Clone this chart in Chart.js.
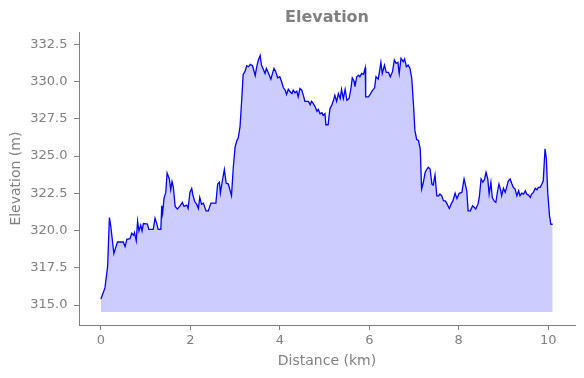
<!DOCTYPE html>
<html>
<head>
<meta charset="utf-8">
<title>Elevation</title>
<script src="https://cdn.jsdelivr.net/npm/chart.js@4.4.1/dist/chart.umd.min.js"></script>
<style>
  html, body { margin: 0; padding: 0; background: #fff; }
  #chart { display: block; }
</style>
</head>
<body>
<canvas id="chart" width="584" height="378"></canvas>
<script>
// distance along the route (km) and elevation (m)
var distanceKm = [
  0.00, 0.09, 0.15, 0.19, 0.22, 0.29, 0.33, 0.37, 0.50, 0.54, 0.58, 0.65, 0.69, 0.73, 0.75, 0.79,
  0.82, 0.85, 0.89, 0.92, 0.95, 1.04, 1.07, 1.17, 1.21, 1.26, 1.28, 1.34, 1.36, 1.38, 1.41, 1.45,
  1.48, 1.53, 1.56, 1.59, 1.62, 1.66, 1.71, 1.77, 1.82, 1.86, 1.92, 1.95, 1.99, 2.03, 2.06, 2.10,
  2.14, 2.18, 2.21, 2.25, 2.29, 2.35, 2.40, 2.46, 2.57, 2.61, 2.65, 2.67, 2.71, 2.76, 2.80, 2.85,
  2.92, 2.96, 3.00, 3.04, 3.07, 3.11, 3.15, 3.18, 3.22, 3.26, 3.30, 3.34, 3.39, 3.45, 3.48, 3.52,
  3.56, 3.59, 3.63, 3.67, 3.70, 3.74, 3.80, 3.83, 3.87, 3.91, 3.95, 4.00, 4.04, 4.08, 4.12, 4.15,
  4.19, 4.23, 4.27, 4.30, 4.34, 4.38, 4.41, 4.45, 4.49, 4.53, 4.56, 4.64, 4.68, 4.71, 4.75, 4.79,
  4.83, 4.86, 4.90, 4.94, 4.97, 5.01, 5.03, 5.08, 5.12, 5.16, 5.20, 5.23, 5.27, 5.31, 5.35, 5.38,
  5.42, 5.46, 5.50, 5.55, 5.59, 5.62, 5.66, 5.68, 5.72, 5.76, 5.79, 5.83, 5.87, 5.91, 5.92, 5.98,
  6.02, 6.06, 6.12, 6.15, 6.20, 6.23, 6.26, 6.29, 6.34, 6.38, 6.43, 6.47, 6.52, 6.56, 6.60, 6.64,
  6.67, 6.71, 6.76, 6.79, 6.83, 6.87, 6.91, 6.95, 6.99, 7.02, 7.06, 7.10, 7.14, 7.17, 7.21, 7.25,
  7.29, 7.32, 7.36, 7.40, 7.43, 7.47, 7.51, 7.55, 7.58, 7.62, 7.66, 7.70, 7.73, 7.79, 7.83, 7.87,
  7.92, 7.96, 8.01, 8.07, 8.12, 8.18, 8.21, 8.26, 8.31, 8.35, 8.38, 8.43, 8.46, 8.50, 8.54, 8.58,
  8.61, 8.65, 8.68, 8.72, 8.75, 8.79, 8.83, 8.87, 8.90, 8.94, 8.96, 9.00, 9.04, 9.08, 9.11, 9.15,
  9.19, 9.22, 9.26, 9.30, 9.34, 9.37, 9.41, 9.45, 9.49, 9.52, 9.56, 9.60, 9.63, 9.67, 9.71, 9.75,
  9.78, 9.82, 9.86, 9.89, 9.93, 9.96, 9.99, 10.03, 10.06, 10.10
];

var elevationM = [
  315.41, 316.15, 317.60, 320.87, 320.30, 318.46, 318.85, 319.23, 319.23, 318.92, 319.41, 319.46, 319.81, 319.68, 319.86, 319.32,
  320.63, 319.97, 320.35, 319.97, 320.47, 320.44, 320.08, 320.08, 320.83, 320.35, 320.08, 320.08, 321.66, 321.16, 322.16, 322.56,
  323.86, 323.46, 322.74, 323.28, 322.90, 321.62, 321.44, 321.66, 321.89, 321.62, 321.70, 321.48, 322.56, 322.83, 322.33, 321.93,
  321.77, 321.48, 322.22, 321.77, 321.84, 321.32, 321.32, 321.84, 321.84, 323.12, 323.24, 322.51, 323.24, 324.09, 323.19, 323.12,
  322.33, 324.25, 325.60, 326.04, 326.20, 326.95, 328.86, 330.48, 330.66, 331.06, 330.99, 331.15, 331.06, 330.39, 330.93, 331.44,
  331.74, 331.10, 330.83, 330.54, 330.88, 330.61, 330.16, 330.48, 330.88, 330.66, 330.25, 330.32, 329.98, 329.58, 329.42, 329.13,
  329.48, 329.31, 329.19, 329.42, 329.24, 329.35, 328.97, 329.53, 329.42, 329.04, 328.67, 328.67, 328.45, 328.67, 328.52, 328.30,
  328.00, 328.13, 327.84, 327.91, 327.73, 327.84, 327.10, 327.10, 328.18, 328.40, 328.74, 329.08, 328.67, 329.19, 328.86, 329.48,
  328.86, 329.48, 328.74, 328.86, 329.53, 330.25, 330.02, 329.65, 330.32, 330.43, 330.32, 330.54, 330.48, 330.93, 328.97, 328.97,
  329.13, 329.35, 329.58, 330.32, 330.16, 330.70, 331.29, 330.54, 331.10, 330.61, 330.61, 330.32, 330.66, 331.44, 331.22, 331.29,
  330.54, 331.56, 331.33, 331.51, 330.99, 331.10, 330.88, 330.21, 328.40, 326.72, 326.11, 326.04, 325.48, 322.78, 323.24, 323.91,
  324.13, 324.25, 324.13, 323.12, 323.05, 323.73, 322.33, 322.33, 322.45, 322.33, 321.99, 321.99, 321.84, 321.48, 321.77, 321.99,
  322.50, 322.14, 322.50, 322.56, 323.46, 322.67, 321.32, 321.32, 321.66, 321.55, 321.44, 321.77, 322.22, 323.46, 323.24, 323.46,
  323.91, 323.46, 322.45, 323.24, 322.22, 321.99, 321.89, 322.67, 323.12, 322.67, 322.33, 322.83, 322.56, 323.01, 323.34, 323.46,
  323.12, 322.90, 322.78, 322.33, 322.67, 322.33, 322.51, 322.45, 322.67, 322.45, 322.38, 322.22, 322.45, 322.56, 322.83, 322.74,
  322.90, 322.90, 323.12, 323.34, 325.48, 324.81, 322.56, 321.00, 320.42, 320.42
];

var xTicks = [0, 2, 4, 6, 8, 10];
var yTicks = [315.0, 317.5, 320.0, 322.5, 325.0, 327.5, 330.0, 332.5];
var fillBase = 314.53;

var grey = '#808080';
var fontFamily = "'DejaVu Sans', sans-serif";

var points = distanceKm.map(function(d, i) { return { x: d, y: elevationM[i] }; });

new Chart(document.getElementById('chart'), {
  type: 'line',
  data: {
    datasets: [{
      data: points,
      borderColor: '#0000ff',
      borderWidth: 1.3,
      backgroundColor: 'rgba(0, 0, 255, 0.2)',
      fill: { value: fillBase },
      pointRadius: 0,
      tension: 0
    }]
  },
  options: {
    responsive: false,
    animation: false,
    devicePixelRatio: 1,
    layout: { padding: { left: 0, right: 9, top: 0, bottom: 0 } },
    plugins: {
      legend: { display: false },
      tooltip: { enabled: false },
      title: {
        display: true,
        text: 'Elevation',
        fullSize: false,
        color: grey,
        font: { family: fontFamily, size: 16, weight: 'bold' },
        padding: { top: 8, bottom: 5 }
      }
    },
    scales: {
      x: {
        type: 'linear',
        min: -0.49,
        max: 10.6,
        afterBuildTicks: function(scale) {
          scale.ticks = xTicks.map(function(v) { return { value: v }; });
        },
        afterFit: function(scale) { scale.height = 53; },
        grid: { drawOnChartArea: false, drawTicks: true, tickLength: 5, color: grey },
        border: { display: true, color: grey, width: 1 },
        ticks: {
          color: grey,
          padding: 3,
          maxRotation: 0,
          font: { family: fontFamily, size: 13 },
          callback: function(v) { return String(v); }
        },
        title: {
          display: true,
          text: 'Distance (km)',
          color: grey,
          font: { family: fontFamily, size: 14 },
          padding: { top: 0, bottom: 8.5 }
        }
      },
      y: {
        min: 313.66,
        max: 333.31,
        afterBuildTicks: function(scale) {
          scale.ticks = yTicks.map(function(v) { return { value: v }; });
        },
        afterFit: function(scale) { scale.width = 79; },
        grid: { drawOnChartArea: false, drawTicks: true, tickLength: 5, color: grey },
        border: { display: true, color: grey, width: 1 },
        ticks: {
          color: grey,
          padding: 6.5,
          font: { family: fontFamily, size: 13 },
          callback: function(v) { return v.toFixed(1); }
        },
        title: {
          display: true,
          text: 'Elevation (m)',
          color: grey,
          font: { family: fontFamily, size: 14 },
          padding: { top: 7.5, bottom: 0 }
        }
      }
    }
  }
});
</script>
</body>
</html>
